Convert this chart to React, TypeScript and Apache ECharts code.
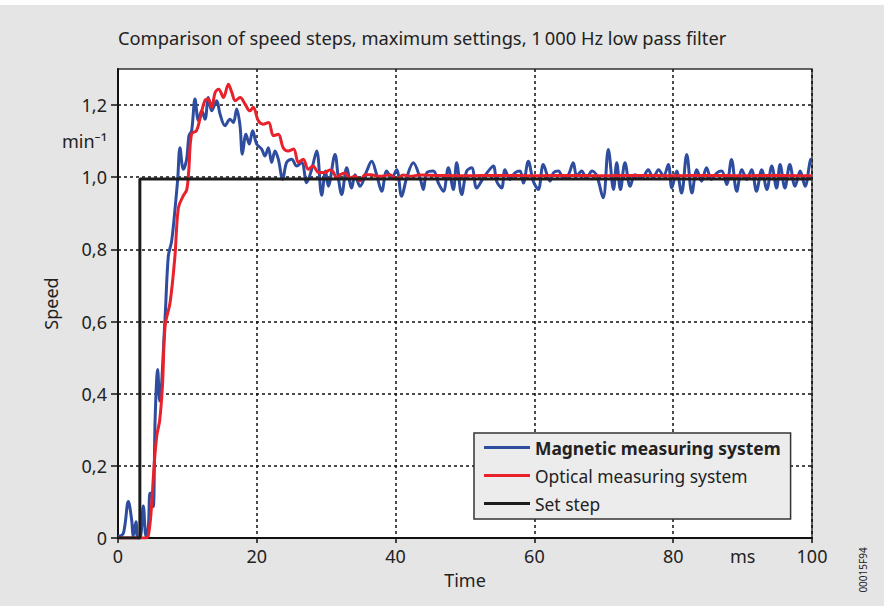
import React, { useEffect, useRef } from 'react';
import * as echarts from 'echarts';

const seriesNames = ['Magnetic measuring system', 'Optical measuring system', 'Set step'];

const magneticData: [number, number][] = [
  [0, 0.004], [0.77, 0.013], [1.49, 0.101], [1.97, 0.05], [2.2, 0.006], [2.59, 0.045], [2.83, 0.0],
  [3.17, 0.0], [3.65, 0.089], [4.03, 0.005], [4.37, 0.031], [4.61, 0.124], [4.85, 0.124], [5.09, 0.087],
  [5.35, 0.33], [5.72, 0.467], [6.0, 0.38], [6.77, 0.606], [7.25, 0.781], [7.73, 0.823], [8.21, 0.911],
  [8.6, 0.994], [8.93, 1.082], [9.41, 1.022], [9.89, 1.05], [10.23, 1.115], [10.61, 1.129], [11.1, 1.217],
  [11.58, 1.157], [12.06, 1.184], [12.54, 1.161], [13.02, 1.221], [13.5, 1.184], [14.22, 1.212],
  [14.7, 1.175], [15.42, 1.143], [16.14, 1.161], [16.62, 1.152], [17.1, 1.189], [17.58, 1.143],
  [17.92, 1.064], [18.44, 1.119], [18.92, 1.092], [19.4, 1.129], [19.98, 1.092], [20.7, 1.078],
  [21.18, 1.059], [21.66, 1.082], [22.14, 1.041], [22.62, 1.073], [23.1, 1.05], [23.73, 0.994],
  [24.3, 1.041], [25.03, 1.05], [25.75, 1.031], [26.47, 1.041], [27.19, 0.985], [27.91, 1.022],
  [28.63, 1.073], [29.35, 0.95], [29.9, 1.017], [30.3, 0.975], [31.27, 1.063], [31.75, 0.998],
  [32.23, 0.952], [32.95, 1.026], [33.67, 0.97], [34.15, 1.007], [34.87, 0.975], [35.83, 1.017],
  [36.55, 1.044], [37.27, 1.007], [38.0, 0.961], [38.71, 1.017], [39.43, 0.998], [40.15, 1.021],
  [40.87, 0.947], [41.59, 0.998], [42.55, 1.04], [43.52, 0.998], [44.0, 0.966], [44.48, 1.012],
  [45.44, 1.017], [46.16, 0.984], [46.88, 0.961], [47.6, 1.026], [48.32, 0.966], [48.8, 1.04],
  [49.52, 0.952], [50.24, 1.017], [50.96, 1.026], [51.68, 0.97], [52.64, 0.998], [53.36, 1.017],
  [54.08, 1.031], [54.56, 0.989], [55.28, 0.97], [55.76, 1.021], [56.48, 0.994], [57.2, 1.012],
  [57.93, 1.017], [58.4, 0.984], [59.12, 1.044], [59.84, 0.989], [60.56, 0.966], [61.28, 1.035],
  [62.25, 0.989], [62.73, 1.012], [63.45, 1.017], [64.17, 0.998], [64.89, 1.007], [65.6, 1.04],
  [66.1, 1.003], [66.8, 1.017], [67.5, 0.998], [68.3, 1.017], [69.0, 1.003], [69.9, 0.943],
  [70.65, 1.077], [71.4, 0.966], [71.86, 1.04], [72.4, 0.966], [73.05, 1.04], [73.8, 0.975],
  [74.5, 1.007], [75.5, 0.998], [76.4, 1.021], [77.1, 0.998], [77.9, 1.021], [78.6, 1.003],
  [79.3, 1.035], [79.8, 0.97], [80.5, 1.017], [81.2, 0.956], [81.95, 1.063], [82.7, 0.956],
  [83.4, 1.021], [84.1, 0.989], [84.8, 1.026], [85.5, 0.994], [86.3, 1.012], [87.0, 1.017],
  [87.7, 0.98], [88.4, 1.049], [89.15, 0.961], [89.9, 1.021], [90.6, 0.994], [91.3, 1.021],
  [92.0, 0.961], [92.75, 1.021], [93.5, 0.966], [94.2, 1.031], [94.9, 0.97], [95.4, 1.035],
  [96.1, 0.97], [96.8, 1.035], [97.55, 0.975], [98.3, 1.017], [99.0, 0.975], [99.8, 1.049], [100, 1.05],
];

const opticalData: [number, number][] = [
  [0, 0], [4.0, 0], [4.4, 0.01], [4.8, 0.08], [5.2, 0.2], [5.6, 0.285], [6.0, 0.325], [6.4, 0.42],
  [6.8, 0.59], [7.5, 0.652], [8.2, 0.78], [8.7, 0.915], [9.4, 0.948], [9.9, 0.965], [10.2, 1.02],
  [10.6, 1.12], [11.3, 1.129], [11.8, 1.161], [12.5, 1.212], [13.0, 1.217], [13.5, 1.194], [14.0, 1.235],
  [14.5, 1.244], [15.2, 1.221], [15.9, 1.258], [16.4, 1.235], [16.9, 1.212], [17.6, 1.221], [18.3, 1.203],
  [19.0, 1.184], [19.5, 1.194], [20.2, 1.157], [20.9, 1.147], [21.7, 1.152], [22.4, 1.115], [23.1, 1.119],
  [23.8, 1.082], [24.5, 1.073], [25.3, 1.078], [26.0, 1.041], [26.7, 1.05], [27.4, 1.022], [28.1, 1.031],
  [28.9, 1.013], [29.8, 1.013], [30.5, 1.02], [31.0, 1.015], [31.5, 0.998], [32.0, 1.007], [32.7, 1.012],
  [33.4, 0.998], [34.15, 1.003], [34.9, 0.99], [35.6, 1.007], [36.5, 1.007], [37.3, 1.003], [38.0, 1.003],
  [39.2, 1.007], [40.15, 0.995], [41.1, 1.006], [42.1, 1.003], [43.5, 1.006], [46, 1.005], [50, 1.004],
  [55, 1.005], [60, 1.004], [65, 1.005], [70, 1.004], [75, 1.005], [80, 1.004], [85, 1.005], [90, 1.004],
  [95, 1.005], [100, 1.004],
];

const setStepData: [number, number][] = [[0, 0], [3.15, 0], [3.15, 0.995], [100, 0.995]];

const xTickValues = [0, 20, 40, 60, 80, 100];
const xLabelValues = [0, 20, 40, 60, 80, 90, 100];
const yTickValues = [0, 0.2, 0.4, 0.6, 0.8, 1.0, 1.2];
const yLabelValues = [0, 0.2, 0.4, 0.6, 0.8, 1.0, 1.1, 1.2];

const titleText = 'Comparison of speed steps, maximum settings, 1\u202F000 Hz low pass filter';
const FONT = '"Noto Sans", sans-serif';
const TEXT = '#222';

export default function App() {
  const ref = useRef<HTMLDivElement>(null);
  useEffect(() => {
    if (!ref.current) return;
    const chart = echarts.init(ref.current, undefined, { renderer: 'svg' });
    chart.setOption({
      animation: false,
      backgroundColor: '#e5e5e5',
      textStyle: { fontFamily: FONT, color: TEXT },
      title: {
        text: titleText,
        left: 113,
        top: 23,
        textStyle: { fontFamily: FONT, fontSize: 18.3, fontWeight: 'normal', color: TEXT },
      },
      graphic: [
        { type: 'rect', shape: { x: 0, y: 0, width: 884, height: 5 }, style: { fill: '#ffffff' }, silent: true },
        {
          type: 'text', x: 863, y: 570, rotation: Math.PI / 2,
          style: { text: '00015F94', fontSize: 10, fontFamily: FONT, fill: TEXT, align: 'center', verticalAlign: 'middle' },
        },
      ],
      grid: {
        left: 118, right: 72, top: 69, bottom: 68,
        show: true, backgroundColor: '#ffffff', borderColor: '#333', borderWidth: 1.5,
      },
      legend: {
        left: 474, top: 433, orient: 'vertical',
        data: seriesNames,
        icon: 'rect', itemWidth: 46, itemHeight: 3, itemGap: 11,
        backgroundColor: '#ececec', borderColor: '#333', borderWidth: 1.5,
        padding: [6, 10, 7, 10],
        formatter: (name: string) => (name === seriesNames[0] ? '{b|' + name + '}' : '{n|' + name + '}'),
        textStyle: {
          fontFamily: FONT, color: TEXT,
          rich: {
            b: { fontFamily: FONT, fontSize: 17.4, fontWeight: 'bold', color: TEXT, lineHeight: 20 },
            n: { fontFamily: FONT, fontSize: 17.4, color: TEXT, lineHeight: 20 },
          },
        },
      },
      xAxis: {
        type: 'value', min: 0, max: 100, interval: 20,
        name: 'Time', nameLocation: 'middle', nameGap: 33, nameMoveOverlap: false,
        nameTextStyle: { fontFamily: FONT, fontSize: 18, color: TEXT },
        axisLine: { show: true, lineStyle: { color: '#111', width: 2 } },
        axisTick: { show: true, inside: false, length: 5, customValues: xTickValues, lineStyle: { color: '#111', width: 1.5 } },
        axisLabel: {
          customValues: xLabelValues, margin: 9, fontFamily: FONT, fontSize: 18, color: TEXT,
          formatter: (v: number) => (v === 90 ? 'ms' : String(v)),
        },
        splitLine: { show: true, lineStyle: { color: '#111', type: [3, 3], width: 1.5 } },
      },
      yAxis: {
        type: 'value', min: 0, max: 1.3, interval: 0.2,
        name: 'Speed', nameLocation: 'middle', nameGap: 58, nameRotate: 90, nameMoveOverlap: false,
        nameTextStyle: { fontFamily: FONT, fontSize: 18, color: TEXT },
        axisLine: { show: true, lineStyle: { color: '#111', width: 2 } },
        axisTick: { show: true, inside: false, length: 7, customValues: yTickValues, lineStyle: { color: '#111', width: 1.5 } },
        axisLabel: {
          customValues: yLabelValues, margin: 11, fontFamily: FONT, fontSize: 18, color: TEXT,
          formatter: (v: number) => {
            if (Math.abs(v - 1.1) < 1e-6) return 'min\u207B\u00B9';
            if (v === 0) return '0';
            return v.toFixed(1).replace('.', ',');
          },
        },
        splitLine: { show: true, lineStyle: { color: '#111', type: [3, 3], width: 1.5 } },
      },
      series: [
        {
          name: seriesNames[0], type: 'line', data: magneticData, showSymbol: false, symbol: 'none',
          smooth: 0.35, z: 2, lineStyle: { color: '#2e4d9e', width: 3 }, itemStyle: { color: '#2e4d9e' },
        },
        {
          name: seriesNames[1], type: 'line', data: opticalData, showSymbol: false, symbol: 'none',
          smooth: 0.35, z: 3, lineStyle: { color: '#e8212b', width: 3 }, itemStyle: { color: '#e8212b' },
        },
        {
          name: seriesNames[2], type: 'line', data: setStepData, showSymbol: false, symbol: 'none',
          smooth: false, z: 4, lineStyle: { color: '#1c1c1c', width: 3 }, itemStyle: { color: '#1c1c1c' },
        },
      ],
    });
    return () => chart.dispose();
  }, []);
  return <div ref={ref} style={{ position: 'absolute', left: 0, top: 0, width: 884, height: 606 }} />;
}
